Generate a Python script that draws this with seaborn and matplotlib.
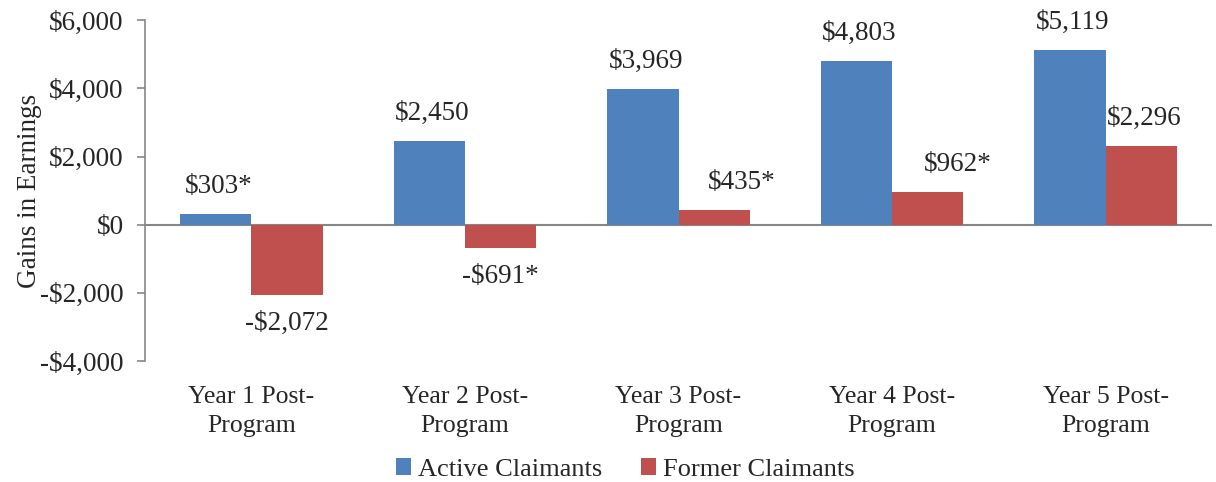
import matplotlib
matplotlib.use('Agg')
import matplotlib.pyplot as plt
import seaborn as sns
import pandas as pd

years = ['Year 1 Post-\nProgram', 'Year 2 Post-\nProgram', 'Year 3 Post-\nProgram',
         'Year 4 Post-\nProgram', 'Year 5 Post-\nProgram']
active = [303, 2450, 3969, 4803, 5119]
former = [-2072, -691, 435, 962, 2296]
active_labels = ['$303*', '$2,450', '$3,969', '$4,803', '$5,119']
former_labels = ['-$2,072', '-$691*', '$435*', '$962*', '$2,296']
yticks = [-4000, -2000, 0, 2000, 4000, 6000]
ytick_labels = ['-$4,000', '-$2,000', '$0', '$2,000', '$4,000', '$6,000']

df = pd.DataFrame({
    'year': years * 2,
    'gain': active + former,
    'group': ['Active Claimants'] * 5 + ['Former Claimants'] * 5,
})

sns.set_style('white')
plt.rcParams['font.family'] = ['Liberation Serif', 'DejaVu Serif']
fs = 19.5

fig = plt.figure(figsize=(12.16, 4.82), dpi=100)
ax = fig.add_axes([0.119, 0.251, 0.878, 0.707])

sns.barplot(data=df, x='year', y='gain', hue='group',
            palette=['#4F81BD', '#C0504D'], width=0.667, saturation=1,
            linewidth=0, ax=ax, legend=True)

ax.set_ylim(-4000, 6000)
ax.set_yticks(yticks)
ax.set_yticklabels(ytick_labels, fontsize=fs)
ax.set_xlim(-0.5, 4.5)
ax.set_xlabel('')
ax.set_ylabel('Gains in Earnings', fontsize=19.5, labelpad=-1)
ax.set_xticks(range(len(years)))
ax.set_xticklabels(years, fontsize=18.5, linespacing=1.4)
ax.tick_params(axis='x', length=0, pad=18)
ax.tick_params(axis='y', length=6, width=1.2, color='#868686', left=True, direction='out', pad=9)

for s in ['top', 'right', 'bottom']:
    ax.spines[s].set_visible(False)
ax.spines['left'].set_color('#868686')
ax.spines['left'].set_linewidth(1.2)
ax.axhline(0, color='#868686', lw=1.5, zorder=0.5)

# data labels (a few former-claimant labels sit a bit to the right, as in the original)
shifts = [[2, 2, 2, 2, 2], [0, 0, 20, 22, 2]]
for container, labels, dxs in zip(ax.containers, [active_labels, former_labels], shifts):
    for bar, lab, dx in zip(container, labels, dxs):
        h = bar.get_height()
        x = bar.get_x() + bar.get_width() / 2
        off = 20 if h >= 0 else -20
        ax.annotate(lab, (x, h), xytext=(dx, off), textcoords='offset points',
                    ha='center', va='center', fontsize=fs)

ax.legend(loc='center', bbox_to_anchor=(0.45, -0.318), ncol=2, frameon=False,
          fontsize=19, handlelength=0.6, handleheight=0.6, handletextpad=0.25,
          columnspacing=1.45, borderaxespad=0, borderpad=0)

fig.savefig('out.png', dpi=100)
